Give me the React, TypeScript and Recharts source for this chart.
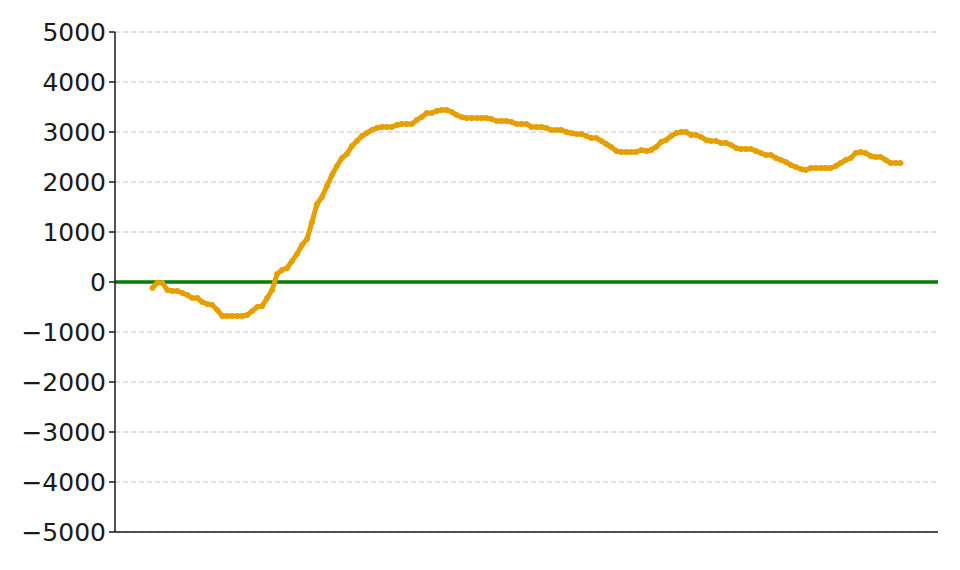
import React from 'react';
import {
  LineChart,
  Line,
  XAxis,
  YAxis,
  CartesianGrid,
  ReferenceLine,
} from 'recharts';

// cumulative values, one every step
const values: number[] = [
  -120, -10, -20, -160, -180, -180, -220, -260, -320, -320,
  -400, -440, -460, -560, -680, -680, -680, -680, -680, -660,
  -580, -500, -480, -320, -160, 160, 240, 280, 420, 560,
  740, 860, 1200, 1560, 1700, 1920, 2140, 2320, 2480, 2560,
  2720, 2820, 2920, 2980, 3040, 3080, 3100, 3100, 3100, 3140,
  3160, 3160, 3160, 3240, 3300, 3380, 3380, 3420, 3440, 3440,
  3400, 3340, 3300, 3280, 3280, 3280, 3280, 3280, 3260, 3220,
  3220, 3220, 3200, 3160, 3160, 3160, 3100, 3100, 3100, 3080,
  3040, 3040, 3040, 3000, 2980, 2960, 2960, 2920, 2880, 2880,
  2820, 2760, 2700, 2620, 2600, 2600, 2600, 2600, 2640, 2620,
  2640, 2700, 2800, 2840, 2920, 2980, 3000, 3000, 2940, 2940,
  2900, 2840, 2820, 2820, 2780, 2780, 2740, 2680, 2660, 2660,
  2660, 2620, 2580, 2540, 2540, 2480, 2440, 2400, 2340, 2300,
  2260, 2240, 2280, 2280, 2280, 2280, 2280, 2320, 2380, 2440,
  2480, 2580, 2600, 2580, 2520, 2500, 2500, 2440, 2380, 2380,
  2380,
];

const yTicks = [-5000, -4000, -3000, -2000, -1000, 0, 1000, 2000, 3000, 4000, 5000];

const data = values.map((v, i) => ({ i, v }));
const n = values.length - 1;

const fmt = (t: number) => (t < 0 ? `\u2212${Math.abs(t)}` : `${t}`);

export default function App() {
  return (
    <div style={{ position: 'absolute', left: 0, top: 0, width: 960, height: 570, background: '#fff' }}>
      <LineChart
        width={960}
        height={570}
        data={data}
        margin={{ top: 32, right: 22, left: 0, bottom: 0 }}
      >
        <CartesianGrid vertical={false} stroke="#c4c4c4" strokeDasharray="5 3" />
        <XAxis
          dataKey="i"
          type="number"
          domain={[-0.05 * n, 1.05 * n]}
          tick={false}
          tickLine={false}
          height={38}
          axisLine={{ stroke: '#1a1a1a', strokeWidth: 1.5 }}
        />
        <YAxis
          type="number"
          domain={[-5000, 5000]}
          ticks={yTicks}
          tickFormatter={fmt}
          width={115}
          interval={0}
          tickSize={6}
          tickMargin={3}
          axisLine={{ stroke: '#1a1a1a', strokeWidth: 1.5 }}
          tickLine={{ stroke: '#1a1a1a', strokeWidth: 1.5 }}
          tick={{ fontSize: 25, fill: '#1a1a1a', fontFamily: 'DejaVu Sans' }}
        />
        <ReferenceLine y={0} stroke="#008000" strokeWidth={3.5} />
        <Line
          type="linear"
          dataKey="v"
          stroke="#E69F00"
          strokeWidth={5}
          dot={{ r: 2.5, fill: '#E69F00', stroke: '#E69F00', strokeWidth: 1 }}
          isAnimationActive={false}
        />
      </LineChart>
    </div>
  );
}
